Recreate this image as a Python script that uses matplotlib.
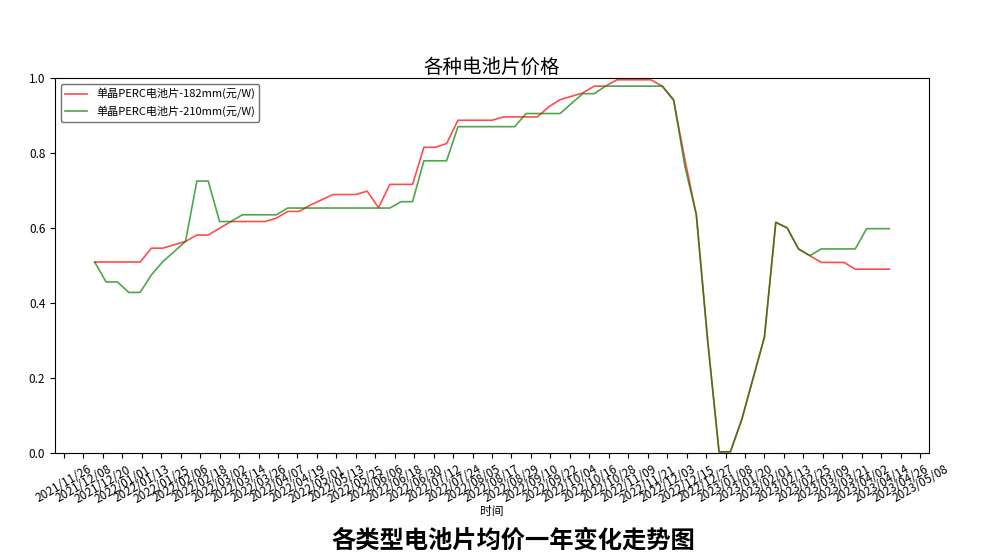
import pandas as pd
import matplotlib
matplotlib.use('Agg')
import matplotlib.pyplot as plt
import matplotlib.dates as mdates

plt.rcParams['font.family'] = ['Noto Sans CJK SC', 'DejaVu Sans']
plt.rcParams['axes.unicode_minus'] = False

# 周度数据, 从 2021/12/15 开始
dates = pd.date_range('2021-12-15', periods=71, freq='7D')

price_182 = [0.51, 0.51, 0.51, 0.51, 0.51, 0.547, 0.547, 0.556, 0.565, 0.582,
             0.582, 0.600, 0.618, 0.618, 0.618, 0.618, 0.627, 0.645, 0.645, 0.662,
             0.676, 0.690, 0.690, 0.690, 0.699, 0.655, 0.717, 0.717, 0.717, 0.816,
             0.816, 0.826, 0.888, 0.888, 0.888, 0.888, 0.897, 0.897, 0.897, 0.897,
             0.924, 0.943, 0.952, 0.961, 0.979, 0.979, 0.996, 0.996, 0.996, 0.996,
             0.979, 0.941, 0.782, 0.636, 0.30, 0.004, 0.004, 0.09, 0.20, 0.31,
             0.616, 0.601, 0.545, 0.527, 0.509, 0.509, 0.509, 0.491, 0.491, 0.491,
             0.491]

price_210 = [0.51, 0.457, 0.457, 0.429, 0.429, 0.476, 0.511, 0.538, 0.565, 0.726,
             0.726, 0.618, 0.618, 0.636, 0.636, 0.636, 0.636, 0.654, 0.654, 0.654,
             0.654, 0.654, 0.654, 0.654, 0.654, 0.654, 0.654, 0.671, 0.671, 0.780,
             0.780, 0.780, 0.871, 0.871, 0.871, 0.871, 0.871, 0.871, 0.906, 0.906,
             0.906, 0.906, 0.933, 0.959, 0.959, 0.979, 0.979, 0.979, 0.979, 0.979,
             0.979, 0.943, 0.764, 0.636, 0.30, 0.004, 0.004, 0.09, 0.20, 0.31,
             0.616, 0.601, 0.545, 0.527, 0.545, 0.545, 0.545, 0.545, 0.599, 0.599,
             0.599]

labels = ['单晶PERC电池片-182mm(元/W)', '单晶PERC电池片-210mm(元/W)']

# x轴刻度每12天一个
ticks = pd.date_range('2021-11-26', '2023-05-08', freq='12D')

fig = plt.figure(figsize=(9.98, 5.56), dpi=100)
ax = fig.add_axes([0.0551, 0.1847, 0.8758, 0.6745])

ax.plot(dates, price_182, color='red', alpha=0.7, lw=1.2, label=labels[0])
ax.plot(dates, price_210, color='green', alpha=0.7, lw=1.2, label=labels[1])

ax.set_ylim(0, 1)
ax.set_xticks(ticks)
ax.xaxis.set_major_formatter(mdates.DateFormatter('%Y/%m/%d'))
ax.tick_params(axis='x', labelsize=8.5)
ax.tick_params(axis='y', labelsize=8.5)
plt.setp(ax.get_xticklabels(), rotation=30)

ax.set_title('各种电池片价格', fontsize=14, pad=2)
ax.set_xlabel('时间', fontsize=8.5, labelpad=0)
leg = ax.legend(loc='upper left', fontsize=8)
leg.get_frame().set_edgecolor('0.3')

fig.text(0.5145, 0.028, '各类型电池片均价一年变化走势图', fontsize=17.5,
         fontweight='bold', ha='center', va='center')

fig.savefig('out.png', dpi=100)
